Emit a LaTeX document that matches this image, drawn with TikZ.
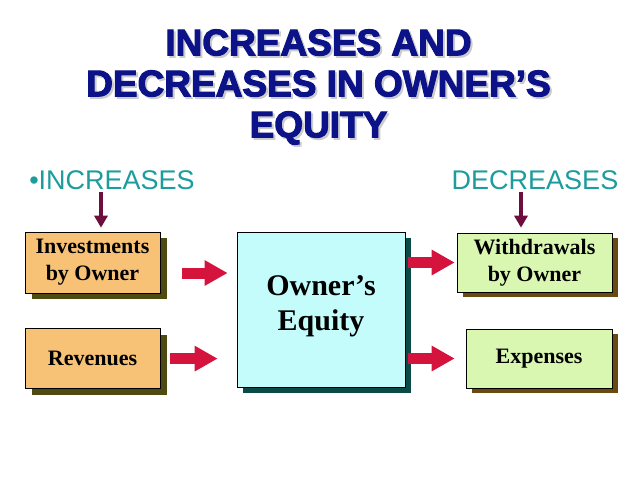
\documentclass[tikz,border=0pt]{standalone}
\usepackage{fontspec}
\setmainfont{Liberation Serif}
\newfontfamily\headfont[FakeBold=3]{Liberation Sans Bold}
\newfontfamily\labelfont{Liberation Sans}
\usetikzlibrary{arrows.meta,positioning,shadows}
\definecolor{navy}{HTML}{0C1288}
\definecolor{teal}{HTML}{1C9C9C}
\definecolor{maroon}{HTML}{6E0E3E}
\definecolor{arrowred}{HTML}{D4143C}
\definecolor{boxorange}{HTML}{F7C276}
\definecolor{boxcyan}{HTML}{C4FCFC}
\definecolor{boxgreen}{HTML}{DAF7B2}
\definecolor{shadeolive}{HTML}{4D4A12}
\definecolor{shadeteal}{HTML}{0C4A48}
\definecolor{shadebrown}{HTML}{6A4A14}

\begin{document}
\begin{tikzpicture}[x=1pt,y=-1pt,
          every node/.style={inner sep=0pt},
          acctbox/.style={draw=black,line width=.6pt,align=center,
              font=\fontsize{22}{27}\selectfont\bfseries},
          incbox/.style={acctbox,fill=boxorange,minimum width=135pt,
              drop shadow={shadow xshift=7pt,shadow yshift=-6pt,fill=shadeolive,opacity=1}},
          decbox/.style={acctbox,fill=boxgreen,minimum height=59pt,
              drop shadow={shadow xshift=6pt,shadow yshift=-5pt,fill=shadebrown,opacity=1}},
          sidelabel/.style={text=teal,font=\labelfont\fontsize{27}{30}\selectfont},
          redarrow/.style={draw=arrowred,line width=11pt,-{Triangle[length=23pt,width=24pt]}},
          downarrow/.style={draw=maroon,line width=4pt,-{Triangle[length=12pt,width=13pt]}}]
        \useasboundingbox (0,0) rectangle (638,487);
        % title
        \node[text=black!20,align=center,font=\headfont\fontsize{37}{41}\selectfont]
            (titleshade) at (320.5,89) {INCREASES AND\\DECREASES IN OWNER’S\\EQUITY};
        \node[text=navy,align=center,font=\headfont\fontsize{37}{41}\selectfont]
            (title) at (318.5,87) {INCREASES AND\\DECREASES IN OWNER’S\\EQUITY};
        % column labels
        \node[sidelabel] (inc) at (112,180) {•INCREASES};
        \node[sidelabel] (dec) at (535,180) {DECREASES};
        % boxes
        \node[incbox,minimum height=61pt] (inv) at (92.5,262.5) {Investments\\by Owner};
        \node[incbox,minimum height=60pt,below=35pt of inv] (rev) {Revenues};
        \node[acctbox,fill=boxcyan,minimum width=168pt,minimum height=155pt,
            text depth=12pt,font=\fontsize{30}{35}\selectfont\bfseries,
            drop shadow={shadow xshift=6pt,shadow yshift=-6pt,fill=shadeteal,opacity=1}]
            (oe) at (321,309.5) {Owner’s\\Equity};
        \node[decbox,minimum width=155pt] (wd) at (534.5,262.5) {Withdrawals\\by Owner};
        \node[decbox,minimum width=146pt] (exp) at (539,358.5) {Expenses};
        % arrows
        \coordinate (invout) at ([yshift=-10.5pt]inv.east);
        \draw[redarrow,shorten <=22pt,shorten >=9pt] (invout) -- (invout -| oe.west);
        \draw[redarrow,shorten <=10pt,shorten >=19pt] (rev) -- (rev -| oe.west);
        \draw[redarrow,shorten <=3pt,shorten >=2pt] (oe.east |- wd) -- (wd);
        \draw[redarrow,shorten <=3pt,shorten >=11pt] (oe.east |- exp) -- (exp);
        \coordinate (incfoot) at ([xshift=-11pt,yshift=-2pt]inc.south);
        \coordinate (decfoot) at ([xshift=-14pt,yshift=-2pt]dec.south);
        \draw[downarrow,shorten >=4pt] (incfoot) -- (incfoot |- inv.north);
        \draw[downarrow,shorten >=5pt] (decfoot) -- (decfoot |- wd.north);
      \end{tikzpicture}
\end{document}
